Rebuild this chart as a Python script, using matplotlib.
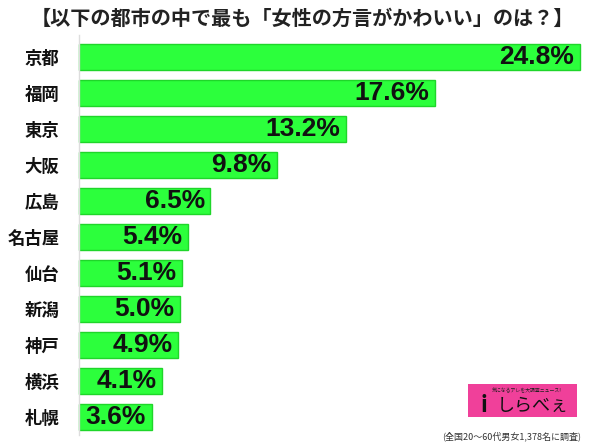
import matplotlib
matplotlib.use('Agg')
from matplotlib import pyplot as plt
from matplotlib.patches import Rectangle

plt.rcParams['font.family'] = ['Noto Sans CJK JP', 'DejaVu Sans']

# data
cities = ['京都', '福岡', '東京', '大阪', '広島', '名古屋', '仙台', '新潟', '神戸', '横浜', '札幌']
percents = [24.8, 17.6, 13.2, 9.8, 6.5, 5.4, 5.1, 5.0, 4.9, 4.1, 3.6]
title = '【以下の都市の中で最も「女性の方言がかわいい」のは？】'
note = '(全国20～60代男女1,378名に調査)'

W, H = 600, 444
fig = plt.figure(figsize=(W / 100, H / 100), dpi=100)

# axes placed in pixel terms: bars start at x=79, top bar centre y=57, pitch 36px
left, right = 79, 580
top, bottom = 39, 435
ax = fig.add_axes([left / W, 1 - bottom / H, (right - left) / W, (bottom - top) / H])

ypos = list(range(len(cities)))
ax.barh(ypos, percents, height=0.72, color='#2cff3c', edgecolor='#1fd62a',
        linewidth=1.0, clip_on=False)
ax.set_xlim(0, max(percents))
ax.set_ylim(len(cities) - 0.5, -0.5)

for y, p in zip(ypos, percents):
    ax.annotate(f'{p}%', xy=(p, y), xytext=(-4, 0), textcoords='offset points',
                ha='right', va='center', fontsize=19, fontweight='bold',
                family=['Liberation Sans', 'DejaVu Sans'], color='#111111')

ax.set_yticks(ypos)
ax.set_yticklabels(cities, fontsize=12.5, fontweight='bold', color='#111111')
ax.tick_params(axis='y', length=0, pad=14)
ax.set_xticks([])
for s in ['top', 'right', 'bottom']:
    ax.spines[s].set_visible(False)
ax.spines['left'].set_color('#dddddd')
ax.spines['left'].set_linewidth(1.0)
ax.spines['left'].set_bounds(-0.5 - 4 / 36, len(cities) - 0.5)

fig.text(302 / W, 1 - 18 / H, title, ha='center', va='center', fontsize=14.5,
         fontweight='bold', color='#222222')

# logo box
fig.patches.append(Rectangle((468 / W, 1 - 417 / H), 109 / W, 33 / H,
                             transform=fig.transFigure, facecolor='#f0409a',
                             edgecolor='none'))
fig.text(527 / W, 1 - 391 / H, '気になるアレを大調査ニュース!', ha='center', va='center',
         fontsize=3.5, color='#222222')
fig.text(484 / W, 1 - 405 / H, 'i', ha='center', va='center', fontsize=16,
         fontweight='bold', color='#111111')
fig.text(533 / W, 1 - 406 / H, 'しらべぇ', ha='center', va='center', fontsize=13,
         color='#111111')

fig.text(512 / W, 1 - 436 / H, note, ha='center', va='center', fontsize=6.5,
         color='#333333')

fig.savefig('out.png', dpi=100)
